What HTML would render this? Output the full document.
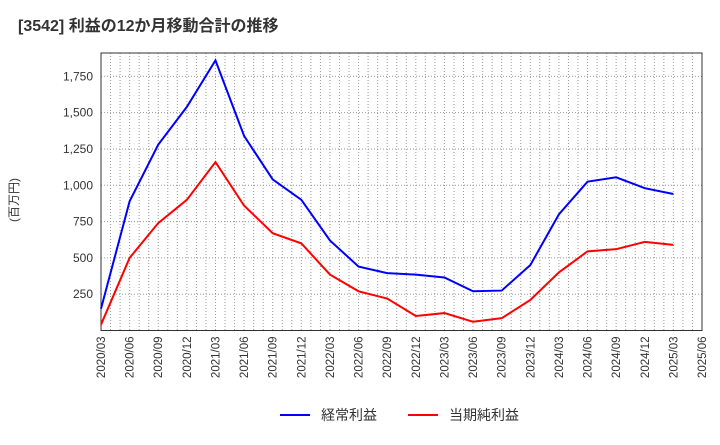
<!DOCTYPE html>
<html><head><meta charset="utf-8"><style>
body{margin:0;background:#fff;font-family:"Liberation Sans","Noto Sans CJK JP",sans-serif;}
</style></head><body>
<svg id="c" width="720" height="440" xmlns="http://www.w3.org/2000/svg"></svg>
<script>
const categories=["2020/03","2020/06","2020/09","2020/12","2021/03","2021/06","2021/09","2021/12","2022/03","2022/06","2022/09","2022/12","2023/03","2023/06","2023/09","2023/12","2024/03","2024/06","2024/09","2024/12","2025/03","2025/06"];
const blueValues=[150,890,1280,1540,1860,1340,1040,900,620,440,395,385,365,270,275,450,800,1025,1055,980,940];
const redValues=[40,500,740,900,1160,860,670,600,385,270,220,100,120,60,85,210,400,545,560,610,590];
const yTicks=[250,500,750,1000,1250,1500,1750];
const yTickLabels=["250","500","750","1,000","1,250","1,500","1,750"];
const NS="http://www.w3.org/2000/svg",svg=document.getElementById('c');
const L=101,R=702,T=53,B=330.5;
const x=i=>L+(R-L)*i/21, y=v=>B-v*(B-T)/1911;
function el(t,a,p){const e=document.createElementNS(NS,t);for(const k in a)e.setAttribute(k,a[k]);(p||svg).appendChild(e);return e;}
const title=el('text',{x:18,y:31,'font-size':16,'font-weight':'bold',fill:'#333'});title.textContent='[3542]  利益の12か月移動合計の推移';

const grid=el('g',{});
for(let m=1;m<63;m++){const xx=L+(R-L)*m/63;el('line',{x1:xx,x2:xx,y1:T,y2:B,stroke:'#999','stroke-width':1,'stroke-dasharray':'1,2'},grid);}
yTicks.forEach((v,i)=>{el('line',{x1:L,x2:R,y1:y(v),y2:y(v),stroke:'#999','stroke-dasharray':'1,2'},grid);
const t=el('text',{x:L-8,y:y(v)+4,'font-size':12,'text-anchor':'end',fill:'#333'});t.textContent=yTickLabels[i];
});
categories.forEach((c,i)=>{const t=el('text',{transform:`translate(${x(i)+4},${B+6}) rotate(-90)`,'font-size':11.5,'text-anchor':'end',fill:'#333'});t.textContent=c;
});
const frame=el('rect',{x:L,y:T,width:R-L,height:B-T,fill:'none',stroke:'#333'});

const yt=el('text',{transform:'translate(18,200) rotate(-90)','font-size':12,'text-anchor':'middle',fill:'#333'});yt.textContent='(百万円)';

function line(vals,col,name){const p=el('polyline',{points:vals.map((v,i)=>x(i)+','+y(v)).join(' '),fill:'none',stroke:col,'stroke-width':2});
}
line(blueValues,'#0000ff','series-ordinary-profit');
line(redValues,'#ff0000','series-net-profit');
function leg(x0,col,txt,name){const g=el('g',{});
el('line',{x1:x0,x2:x0+30,y1:415,y2:415,stroke:col,'stroke-width':2},g);
const t=el('text',{x:x0+41,y:420,'font-size':14,fill:'#333'},g);t.textContent=txt;}
leg(280,'#0000ff','経常利益','legend-ordinary-profit');
leg(408,'#ff0000','当期純利益','legend-net-profit');
</script></body></html>
